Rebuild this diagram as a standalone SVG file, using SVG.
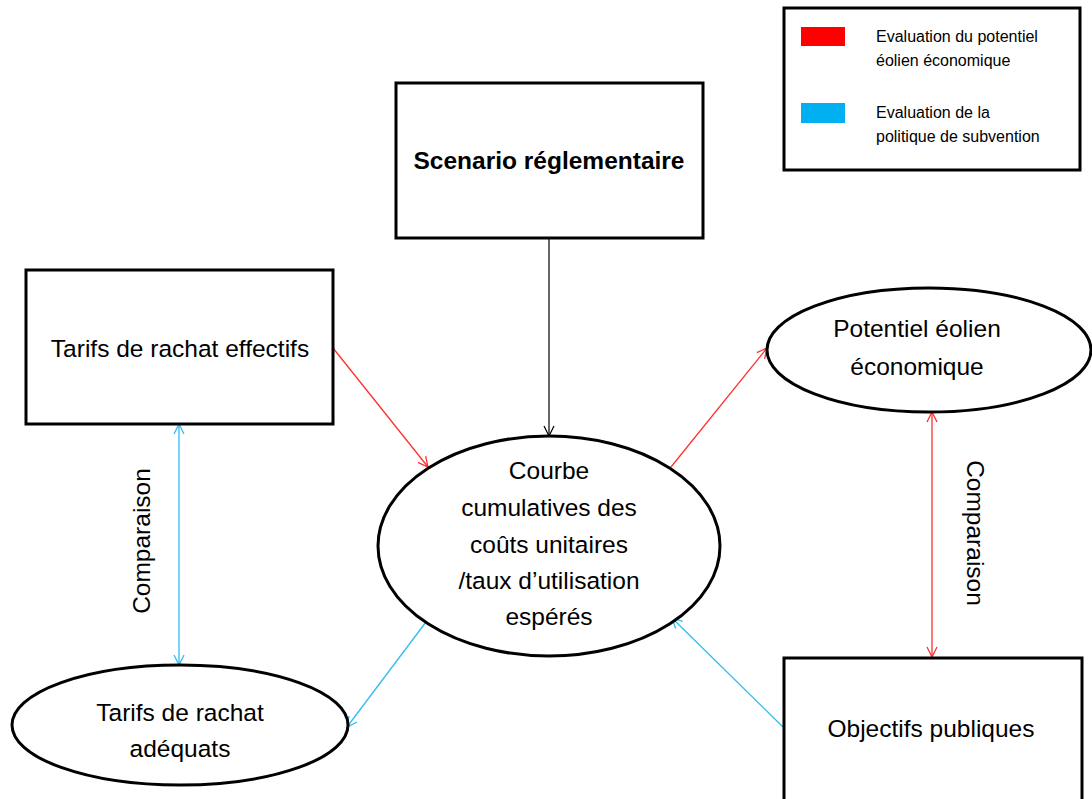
<svg xmlns="http://www.w3.org/2000/svg" width="1092" height="799" viewBox="0 0 1092 799">
<defs>
<style>
.node{fill:#fff;stroke:#000;stroke-width:3}
.t{font-family:"Liberation Sans",Arial,sans-serif;font-size:24.5px;fill:#000;text-anchor:middle}
.b{font-weight:bold}
.lg{font-family:"Liberation Sans",Arial,sans-serif;font-size:16px;fill:#000}
.k{stroke:#000;stroke-width:1.2;fill:none}
.r{stroke:#FF3030;stroke-width:1.3;fill:none}
.c{stroke:#33BBEE;stroke-width:1.3;fill:none}
</style>
<marker id="mk" viewBox="0 0 12 12" refX="11" refY="6" markerWidth="12" markerHeight="12" markerUnits="userSpaceOnUse" orient="auto-start-reverse"><path d="M1,1 L11,6 L1,11" fill="none" stroke="#000" stroke-width="1.2"/></marker>
<marker id="mr" viewBox="0 0 12 12" refX="11" refY="6" markerWidth="12" markerHeight="12" markerUnits="userSpaceOnUse" orient="auto-start-reverse"><path d="M1,1 L11,6 L1,11" fill="none" stroke="#FF3030" stroke-width="1.3"/></marker>
<marker id="mc" viewBox="0 0 12 12" refX="11" refY="6" markerWidth="12" markerHeight="12" markerUnits="userSpaceOnUse" orient="auto-start-reverse"><path d="M1,1 L11,6 L1,11" fill="none" stroke="#33BBEE" stroke-width="1.3"/></marker>
</defs>
<rect width="1092" height="799" fill="#fff"/>

<g id="legend">
<rect x="784" y="8" width="296" height="162" class="node"/>
<rect x="801" y="27" width="44" height="19" fill="#FF0000"/>
<rect x="801" y="103" width="44" height="20" fill="#00B0F0"/>
<text class="lg" x="876" y="42">Evaluation du potentiel</text>
<text class="lg" x="876" y="66">éolien économique</text>
<text class="lg" x="876" y="118">Evaluation de la</text>
<text class="lg" x="876" y="142">politique de subvention</text>
</g>

<g id="connectors">
<line class="k" x1="549" y1="238" x2="549" y2="436" marker-end="url(#mk)"/>
<line class="r" x1="333" y1="348" x2="428" y2="467" marker-end="url(#mr)"/>
<line class="r" x1="671" y1="467" x2="767" y2="348" marker-end="url(#mr)"/>
<line class="r" x1="932" y1="412" x2="932" y2="657" marker-start="url(#mr)" marker-end="url(#mr)"/>
<line class="c" x1="179" y1="424" x2="179" y2="665" marker-start="url(#mc)" marker-end="url(#mc)"/>
<line class="c" x1="429" y1="618" x2="347" y2="727" marker-end="url(#mc)"/>
<line class="c" x1="784" y1="728" x2="672" y2="618" marker-end="url(#mc)"/>
<text class="t" transform="translate(150,541) rotate(-90)">Comparaison</text>
<text class="t" transform="translate(967,533) rotate(90)">Comparaison</text>
</g>

<g id="scenario">
<rect x="396" y="83" width="307" height="155" class="node"/>
<text class="t b" x="549" y="169">Scenario réglementaire</text>
</g>

<g id="tarifs-effectifs">
<rect x="26" y="270" width="307" height="154" class="node"/>
<text class="t" x="180" y="357">Tarifs de rachat effectifs</text>
</g>

<g id="potentiel">
<ellipse cx="929" cy="350" rx="162" ry="62" class="node"/>
<text class="t" x="917" y="337">Potentiel éolien</text>
<text class="t" x="917" y="375">économique</text>
</g>

<g id="courbe">
<ellipse cx="549" cy="546" rx="171" ry="110" class="node"/>
<text class="t" x="549" y="479">Courbe</text>
<text class="t" x="549" y="516">cumulatives des</text>
<text class="t" x="549" y="553">coûts unitaires</text>
<text class="t" x="549" y="589">/taux d’utilisation</text>
<text class="t" x="549" y="625">espérés</text>
</g>

<g id="tarifs-adequats">
<ellipse cx="180" cy="725" rx="168" ry="60" class="node"/>
<text class="t" x="180" y="721">Tarifs de rachat</text>
<text class="t" x="180" y="757">adéquats</text>
</g>

<g id="objectifs">
<rect x="784" y="658" width="298" height="150" class="node"/>
<text class="t" x="931" y="737">Objectifs publiques</text>
</g>
</svg>
